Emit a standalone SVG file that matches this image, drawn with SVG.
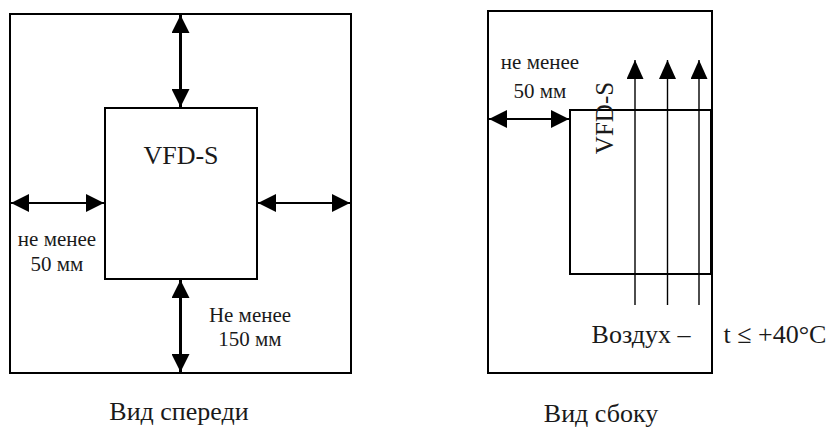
<svg xmlns="http://www.w3.org/2000/svg" width="833" height="430" viewBox="0 0 833 430">
<defs>
<style>
.frame{fill:none;stroke:#000;stroke-width:2}
.thick{stroke:#000;stroke-width:3;fill:none}
.med{stroke:#000;stroke-width:2;fill:none}
.thin{stroke:#000;stroke-width:1.4;fill:none}
</style>
<marker id="ah" viewBox="0 0 18 18" refX="18" refY="9" markerWidth="18" markerHeight="18" markerUnits="userSpaceOnUse" orient="auto-start-reverse">
<path d="M0,0 L18,9 L0,18 Z" fill="#000"/>
</marker>
<marker id="ah2" viewBox="0 0 19 17" refX="19" refY="8.5" markerWidth="19" markerHeight="17" markerUnits="userSpaceOnUse" orient="auto">
<path d="M0,0 L19,8.5 L0,17 Z" fill="#000"/>
</marker>
</defs>
<rect width="833" height="430" fill="#fff"/>
<g id="front-view">
<rect class="frame" x="10" y="14" width="341" height="359"/>
</g>
<g id="side-view">
<rect class="frame" x="488" y="11" width="224" height="362"/>
</g>
<g id="front-device">
<rect class="frame" x="105" y="108" width="152" height="171"/>
<text x="181" y="164" font-size="26" text-anchor="middle" fill="#1a1a1a" style="font-family:'Liberation Serif'">VFD-S</text>
</g>
<g id="front-labels" fill="#1a1a1a" style="font-family:'Liberation Serif'">
<text x="57" y="246" font-size="21" text-anchor="middle">не менее</text>
<text x="57" y="271" font-size="21" text-anchor="middle">50 мм</text>
<text x="250" y="322" font-size="21" text-anchor="middle">Не менее</text>
<text x="250" y="346" font-size="21" text-anchor="middle">150 мм</text>
<text x="179" y="420" font-size="26" text-anchor="middle">Вид спереди</text>
</g>
<g id="side-device">
<rect class="frame" x="570" y="110" width="141" height="164"/>
<text transform="translate(613,118) rotate(-90)" font-size="25" text-anchor="middle" fill="#1a1a1a" style="font-family:'Liberation Serif'">VFD-S</text>
</g>
<g id="side-labels" fill="#1a1a1a" style="font-family:'Liberation Serif'">
<text x="540" y="69" font-size="21" text-anchor="middle">не менее</text>
<text x="540" y="98" font-size="21" text-anchor="middle">50 мм</text>
<text x="641" y="343" font-size="26" text-anchor="middle">Воздух –</text>
<text x="775" y="343" font-size="26" text-anchor="middle">t ≤ +40°C</text>
<text x="601" y="422" font-size="26" text-anchor="middle">Вид сбоку</text>
</g>
<g id="connectors">
<line class="thick" x1="180.5" y1="15" x2="180.5" y2="107" marker-start="url(#ah)" marker-end="url(#ah)"/>
<line class="thick" x1="180.5" y1="280" x2="180.5" y2="372" marker-start="url(#ah)" marker-end="url(#ah)"/>
<line class="med" x1="11" y1="203" x2="104" y2="203" marker-start="url(#ah)" marker-end="url(#ah)"/>
<line class="med" x1="258" y1="203" x2="350" y2="203" marker-start="url(#ah)" marker-end="url(#ah)"/>
<line class="med" x1="489" y1="119" x2="569" y2="119" marker-start="url(#ah)" marker-end="url(#ah)"/>
<line class="thin" x1="635" y1="305" x2="635" y2="60" marker-end="url(#ah2)"/>
<line class="thin" x1="667.5" y1="305" x2="667.5" y2="60" marker-end="url(#ah2)"/>
<line class="thin" x1="699" y1="305" x2="699" y2="60" marker-end="url(#ah2)"/>
</g>
</svg>
